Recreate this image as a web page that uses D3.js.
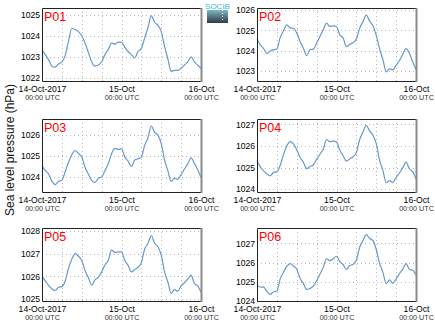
<!DOCTYPE html>
<html><head><meta charset="utf-8">
<script src="https://cdn.jsdelivr.net/npm/d3@7"></script>
<style>body{margin:0;background:#fff}svg{display:block;font-family:"Liberation Sans",Arial,sans-serif}</style>
</head><body><svg id="c" width="435" height="327"></svg>
<script>
const panelNames = ["P01","P02","P03","P04","P05","P06"];
const hours = d3.range(0, 49);
const p01 = [1023.32,1023.1,1022.85,1022.55,1022.5,1022.65,1022.75,1023.05,1023.75,1024.35,1024.3,1024.2,1024.0,1023.65,1023.2,1022.75,1022.55,1022.6,1022.75,1023.1,1023.35,1023.65,1023.6,1023.7,1023.7,1023.45,1023.25,1023.1,1022.95,1023.25,1023.4,1023.9,1024.4,1024.95,1024.65,1024.5,1024.2,1023.5,1022.9,1022.3,1022.35,1022.35,1022.45,1022.6,1022.75,1023.0,1022.75,1022.6,1022.45];
const p02 = [1024.57,1024.28,1024.1,1023.85,1023.98,1024.05,1024.08,1024.65,1024.97,1025.27,1025.12,1025.1,1024.86,1024.45,1024.12,1023.75,1024.05,1024.07,1024.37,1024.7,1025.03,1025.35,1025.19,1025.22,1025.19,1024.78,1024.62,1024.2,1024.3,1024.4,1024.57,1025.1,1025.44,1025.75,1025.45,1025.22,1024.75,1024.1,1023.56,1022.95,1023.1,1023.05,1023.28,1023.5,1023.82,1024.1,1023.87,1023.45,1023.05];
const p03 = [1024.54,1024.3,1024.14,1023.8,1023.65,1023.8,1023.85,1024.25,1024.7,1025.05,1025.25,1025.1,1024.94,1024.46,1024.14,1023.85,1023.75,1023.95,1024.0,1024.3,1024.62,1025.1,1025.35,1025.3,1025.33,1024.94,1024.75,1024.5,1024.8,1024.86,1024.94,1025.5,1025.85,1026.4,1026.1,1025.97,1025.57,1024.8,1024.3,1023.8,1023.95,1023.9,1024.12,1024.38,1024.62,1024.9,1024.65,1024.35,1023.98];
const p04 = [1025.33,1025.03,1024.85,1024.7,1024.62,1024.78,1024.8,1025.1,1025.6,1026.0,1026.2,1026.1,1025.82,1025.48,1025.25,1024.95,1025.05,1025.12,1025.38,1025.62,1025.85,1026.3,1026.2,1026.23,1026.19,1025.8,1025.55,1025.3,1025.4,1025.5,1025.7,1026.3,1026.65,1026.95,1026.7,1026.5,1026.11,1025.35,1024.88,1024.3,1024.4,1024.32,1024.55,1024.75,1025.0,1025.25,1024.95,1024.8,1024.47];
const p05 = [1026.0,1025.8,1025.6,1025.45,1025.38,1025.52,1025.55,1025.8,1026.35,1026.75,1027.0,1026.88,1026.7,1026.25,1025.95,1025.62,1025.85,1025.96,1026.2,1026.5,1026.7,1027.15,1027.05,1027.07,1027.07,1026.7,1026.48,1026.2,1026.3,1026.4,1026.6,1027.2,1027.45,1027.78,1027.45,1027.3,1026.92,1026.2,1025.75,1025.25,1025.42,1025.35,1025.58,1025.72,1025.88,1026.05,1025.7,1025.58,1025.3];
const p06 = [1024.82,1024.73,1024.72,1024.5,1024.35,1024.48,1024.52,1025.15,1025.5,1025.8,1025.95,1025.82,1025.65,1025.18,1024.92,1024.6,1024.65,1024.77,1025.05,1025.4,1025.75,1026.2,1026.1,1026.2,1026.33,1026.05,1025.9,1025.65,1025.85,1025.9,1026.12,1026.8,1027.15,1027.45,1027.25,1027.15,1026.68,1025.96,1025.5,1024.9,1025.1,1024.92,1025.15,1025.42,1025.65,1025.95,1025.65,1025.6,1025.35];
const seriesList = [p01,p02,p03,p04,p05,p06];
const yDomains = [[1021.84,1025.33],[1022.5,1026.1],[1023.3,1026.73],[1023.87,1027.25],[1024.92,1028.12],[1024.0,1027.8]];
const yTicks = [[1022,1023,1024,1025],[1023,1024,1025,1026],[1024,1025,1026],[1024,1025,1026,1027],[1025,1026,1027,1028],[1024,1025,1026,1027]];
const xTickLabels = ["14-Oct-2017","15-Oct","16-Oct"];
const xTickSub = ["00:00 UTC","00:00 UTC","00:00 UTC"];
const yLabel = "Sea level pressure (hPa)";

const svg = d3.select("#c");
const colX = [42, 257], rowY = [8, 119, 228], W = 159, H = 73;
const t0 = Date.UTC(2017,9,14);
const toDate = h => new Date(t0 + h*3600e3);
const FF = "Liberation Sans, Arial, sans-serif";

seriesList.forEach((vals, i) => {
  const ox = colX[i % 2], oy = rowY[Math.floor(i / 2)];
  const g = svg.append("g").attr("transform", `translate(${ox},${oy})`);
  const x = d3.scaleUtc().domain([toDate(0), toDate(48)]).range([0, W]);
  const y = d3.scaleLinear().domain(yDomains[i]).range([H, 0]);
  // grid
  g.append("g").selectAll("line").data(d3.range(6, 48, 6)).join("line")
    .attr("x1", d => Math.round(x(toDate(d))) + 0.5).attr("x2", d => Math.round(x(toDate(d))) + 0.5).attr("y1", 0).attr("y2", H)
    .attr("stroke", "#b8b8b8").attr("stroke-width", 1).attr("stroke-dasharray", "1,3");
  g.append("g").selectAll("line").data(yTicks[i]).join("line")
    .attr("x1", 0).attr("x2", W).attr("y1", d => Math.round(y(d)) + 0.5).attr("y2", d => Math.round(y(d)) + 0.5)
    .attr("stroke", "#b8b8b8").attr("stroke-width", 1).attr("stroke-dasharray", "1,3");
  // line
  g.append("path").datum(hours)
    .attr("fill", "none").attr("stroke", "#6898cc").attr("stroke-width", 1.2)
    .attr("d", d3.line().x(h => x(toDate(h))).y(h => y(vals[h])).curve(d3.curveMonotoneX));
  // frame
  g.append("path").attr("d", `M${W},0.5H0.5V${H}.5H${W}`).attr("fill", "none").attr("stroke", "#222").attr("stroke-width", 1);
  g.append("line").attr("x1", W + 0.5).attr("x2", W + 0.5).attr("y1", 0).attr("y2", H + 1)
    .attr("stroke", "#8a8a8a").attr("stroke-width", 2);
  // y axis
  const ya = g.append("g").call(d3.axisLeft(y).tickValues(yTicks[i]).tickSize(0).tickPadding(2).tickFormat(d3.format("d")));
  ya.select(".domain").remove();
  ya.selectAll("text").attr("font-size", 8.6).attr("fill", "#000").attr("font-family", FF);
  // x axis
  const xa = g.append("g").attr("transform", `translate(0,${H})`)
    .call(d3.axisBottom(x).tickValues([toDate(0), toDate(24), toDate(48)]).tickSize(0).tickPadding(5).tickFormat((d, k) => xTickLabels[k]));
  xa.select(".domain").remove();
  xa.selectAll("text").attr("font-size", 8.6).attr("fill", "#000").attr("font-family", FF);
  xa.selectAll(".tick").append("text").attr("y", 19).attr("text-anchor", "middle")
    .attr("font-size", 7.2).attr("fill", "#333").attr("font-family", FF)
    .text((d, k) => xTickSub[k]);
  // title
  g.append("text").attr("x", 2).attr("y", 12.5).attr("fill", "#ff0000").attr("font-size", 12.5)
    .attr("font-family", FF).text(panelNames[i]);
});

// y label
svg.append("text").attr("transform", "translate(14,150) rotate(-90)").attr("text-anchor", "middle")
  .attr("font-size", 12).attr("fill", "#111").attr("font-family", FF).text(yLabel);

// logo
const defs = svg.append("defs");
const lg = defs.append("linearGradient").attr("id", "lg").attr("x1", 0).attr("y1", 0).attr("x2", 0).attr("y2", 1);
lg.append("stop").attr("offset", "0%").attr("stop-color", "#7fb7c4");
lg.append("stop").attr("offset", "100%").attr("stop-color", "#2e3b44");
svg.append("rect").attr("x", 207).attr("y", 10).attr("width", 21).attr("height", 13).attr("fill", "url(#lg)");
svg.append("line").attr("x1", 222.5).attr("x2", 222.5).attr("y1", 10).attr("y2", 22).attr("stroke", "#fff").attr("stroke-dasharray", "1,2");
svg.append("text").attr("x", 217.5).attr("y", 8.5).attr("text-anchor", "middle").attr("font-size", 8)
  .attr("fill", "#35b8d6").attr("font-family", FF).text("SOCIB");
</script></body></html>
